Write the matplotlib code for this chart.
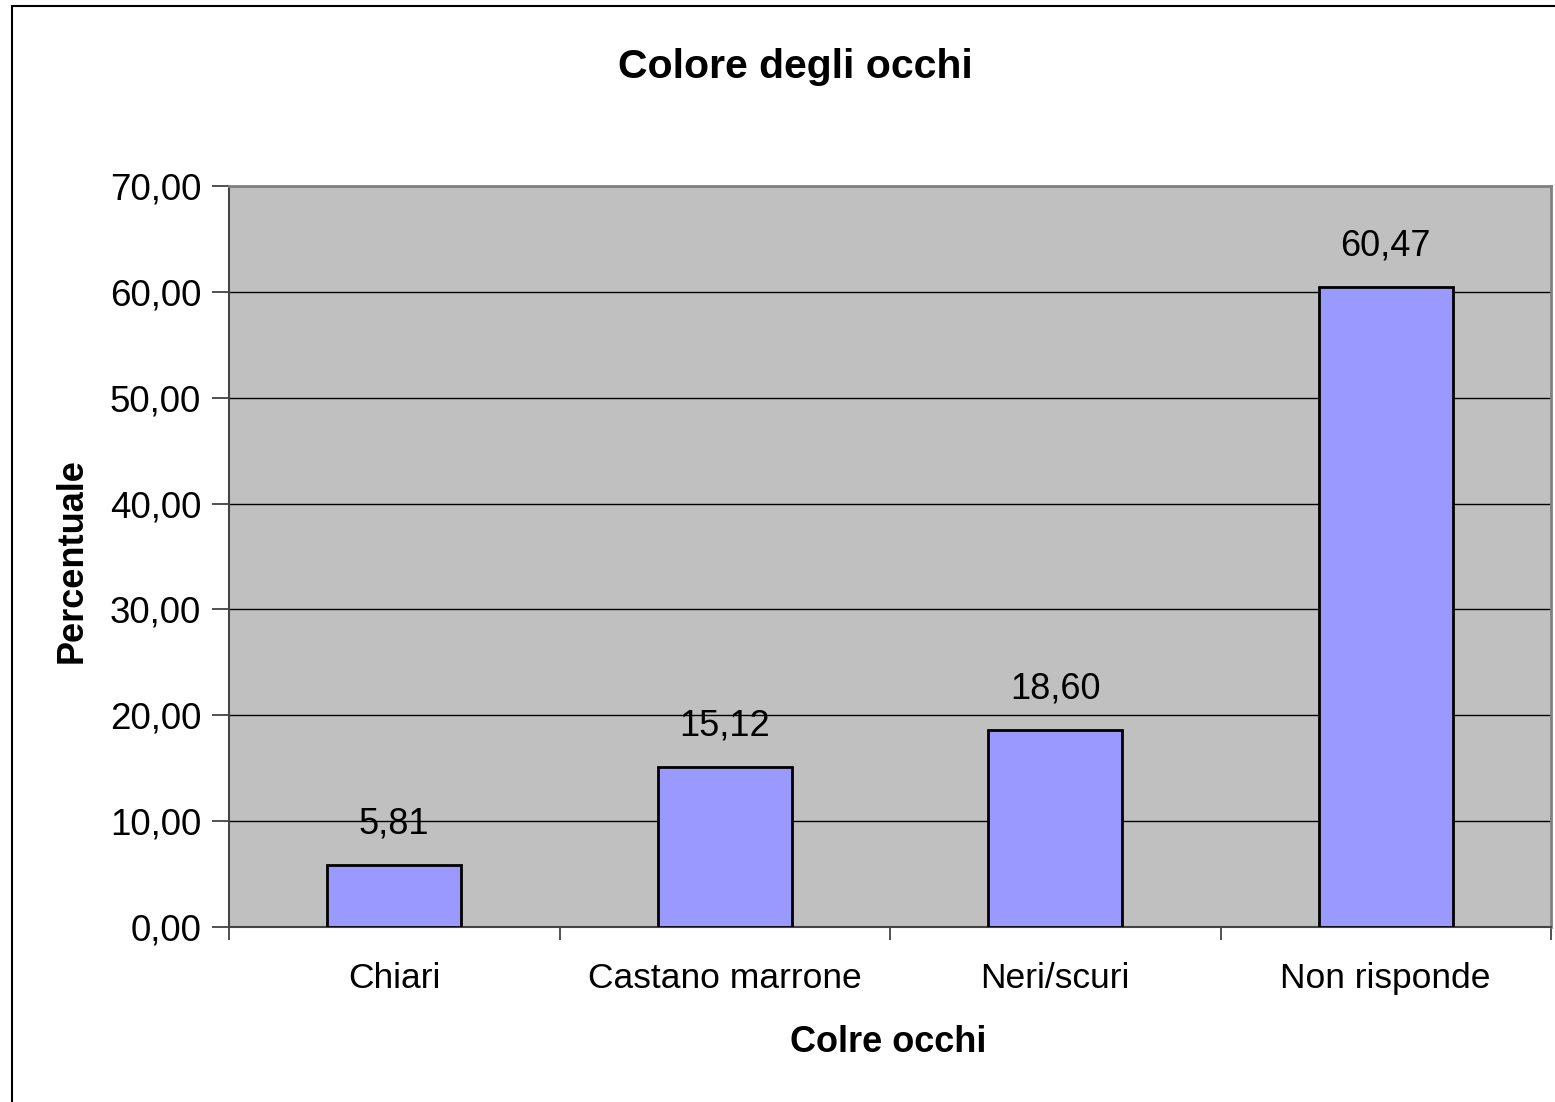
import matplotlib.pyplot as plt
from matplotlib.patches import Rectangle
import numpy as np

plt.rcParams["font.family"] = ["Liberation Sans", "DejaVu Sans"]

categories = ["Chiari", "Castano marrone", "Neri/scuri", "Non risponde"]
values = [5.81, 15.12, 18.60, 60.47]
yticks = [0, 10, 20, 30, 40, 50, 60, 70]


def comma(v):
    return f"{v:.2f}".replace(".", ",")


W, H = 1555, 1102
fig = plt.figure(figsize=(W / 100, H / 100), dpi=100)
fig.patch.set_facecolor("white")

# outer chart border (only left/top edges visible in the crop)
fig.patches.append(Rectangle((12 / W, -0.1), 1.2, 1 - 6 / H + 0.1,
                             transform=fig.transFigure, fill=False,
                             edgecolor="black", linewidth=1.5))

ax = fig.add_axes([229 / W, 1 - 927 / H, (1551 - 229) / W, (927 - 186) / H])
ax.set_facecolor("#C0C0C0")

x = np.arange(len(categories))
ax.bar(x, values, width=0.405, color="#9999FF", edgecolor="black",
       linewidth=2, zorder=3)

for xi, v in zip(x, values):
    ax.annotate(comma(v), (xi, v), xytext=(0, 17), textcoords="offset points",
                ha="center", va="bottom", fontsize=26)

ax.set_xlim(-0.5, len(categories) - 0.5)
ax.set_ylim(0, 70)
ax.set_yticks(yticks)
ax.set_yticklabels([comma(t) for t in yticks], fontsize=26.5)
ax.yaxis.grid(True, color="black", linewidth=1)
ax.set_axisbelow(True)

# category ticks sit between bars, labels at bar centres
ax.set_xticks(np.arange(len(categories) + 1) - 0.5)
ax.set_xticklabels([])
ax.set_xticks(x, minor=True)
ax.set_xticklabels(categories, minor=True, fontsize=25.5)
ax.tick_params(axis="x", which="minor", length=0, pad=25)
ax.tick_params(axis="x", which="major", length=9, width=1.2, color="#333333")
ax.tick_params(axis="y", length=12, width=1.2, color="#333333", pad=8)

for side in ("top", "right"):
    ax.spines[side].set_color("#808080")
    ax.spines[side].set_linewidth(2)
for side in ("left", "bottom"):
    ax.spines[side].set_color("#444444")
    ax.spines[side].set_linewidth(1.5)

fig.text(795 / W, 1 - 67 / H, "Colore degli occhi", ha="center", va="center",
         fontsize=29.5, fontweight="bold")
fig.text(72 / W, 1 - 561 / H, "Percentuale", ha="center", va="center",
         rotation=90, fontsize=26, fontweight="bold")
fig.text(888 / W, 1 - 1042 / H, "Colre occhi", ha="center", va="center",
         fontsize=26, fontweight="bold")

fig.savefig("out.png", dpi=100)
